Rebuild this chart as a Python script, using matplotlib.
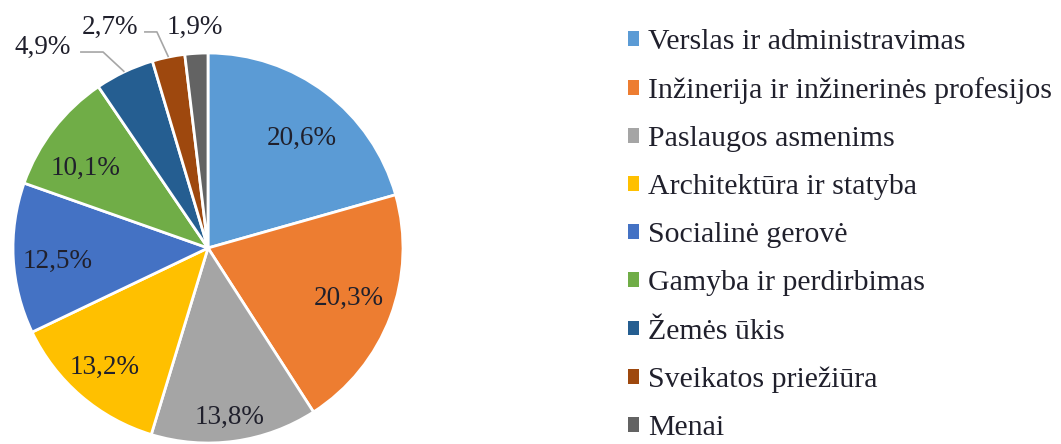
import matplotlib
matplotlib.use("Agg")
import matplotlib.pyplot as plt
import numpy as np
from matplotlib.patches import Patch

# ── Data ──────────────────────────────────────────────────────────────
CATEGORIES = [
    "Verslas ir administravimas",
    "Inžinerija ir inžinerinės profesijos",
    "Paslaugos asmenims",
    "Architektūra ir statyba",
    "Socialinė gerovė",
    "Gamyba ir perdirbimas",
    "Žemės ūkis",
    "Sveikatos priežiūra",
    "Menai",
]
SHARES = [20.6, 20.3, 13.8, 13.2, 12.5, 10.1, 4.9, 2.7, 1.9]

COLORS = ["#5B9BD5", "#ED7D31", "#A5A5A5", "#FFC000", "#4472C4",
          "#70AD47", "#255E91", "#9E480E", "#636363"]

# label centres in pie-radius units (x, y) relative to the pie centre
LABEL_XY = [(0.48, 0.56), (0.72, -0.26), (0.11, -0.87), (-0.53, -0.61),
            (-0.77, -0.07), (-0.63, 0.41), (-0.846, 1.03),
            (-0.503, 1.13), (-0.067, 1.13)]
# leader lines: (start, knee) for outside labels
LEADERS = {6: ((-0.656, 1.005), (-0.538, 1.005)),
           7: ((-0.328, 1.108), (-0.262, 1.108))}

TEXT_COLOR = "#20202c"
FONT = "Liberation Serif"
FS = 19.5        # pie labels
FS_LEG = 21.5    # legend (reference text runs a bit wider)

# ── Figure ────────────────────────────────────────────────────────────
W, H = 1061, 444
CX, CY, R = 208, 248, 195          # pie centre / radius in pixels
fig = plt.figure(figsize=(W / 100, H / 100), dpi=100)
ax = fig.add_axes([0, 0, 1, 1])

wedges, _ = ax.pie(SHARES, colors=COLORS, startangle=90, counterclock=False,
                   radius=1.0, wedgeprops={"edgecolor": "white", "linewidth": 2})

for i, (w, (lx, ly)) in enumerate(zip(wedges, LABEL_XY)):
    ax.text(lx, ly, f"{SHARES[i]:.1f}%".replace(".", ","), ha="center", va="center",
            fontsize=FS, family=FONT, color=TEXT_COLOR)
    if i in LEADERS:
        mid = np.deg2rad((w.theta1 + w.theta2) / 2)
        (sx, sy), (kx, ky) = LEADERS[i]
        ax.plot([sx, kx, np.cos(mid)], [sy, ky, np.sin(mid)],
                color="#A6A6A6", lw=1.2, solid_capstyle="butt")

ax.set_aspect("auto")
ax.set_xlim(-CX / R, (W - CX) / R)
ax.set_ylim(-(H - CY) / R, CY / R)
ax.axis("off")

handles = [Patch(facecolor=c, edgecolor="none") for c in COLORS]
leg = fig.legend(handles, CATEGORIES, loc="upper left",
                 bbox_to_anchor=(628 / W, 1 - 29 / H), frameon=False,
                 prop={"family": FONT, "size": FS_LEG},
                 handlelength=0.38, handleheight=0.38, handletextpad=0.3,
                 labelspacing=0.74, borderpad=0, borderaxespad=0)
for t in leg.get_texts():
    t.set_color(TEXT_COLOR)

fig.savefig("out.png", dpi=100)
